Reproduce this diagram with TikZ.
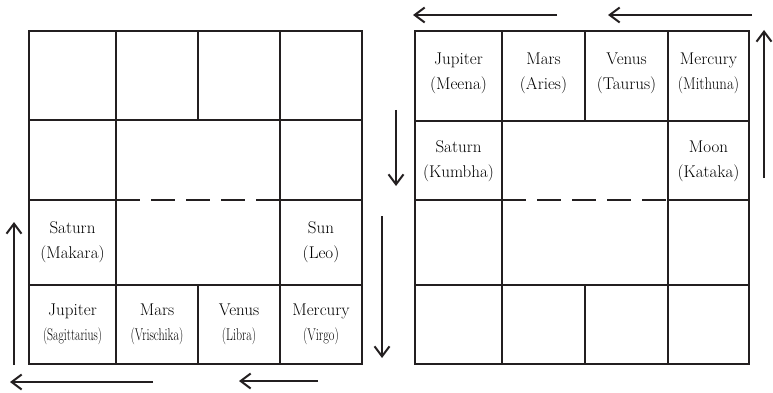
\documentclass[tikz,border=0pt]{standalone}
\usetikzlibrary{arrows.meta}
\definecolor{ink}{RGB}{35,31,32}
\tikzset{
  grid/.style={line width=2pt, draw=ink},
  dsh/.style={line width=2pt, draw=ink, dash pattern=on 24pt off 11pt},
  arr/.style={line width=2pt, draw=ink, -{Straight Barb[length=10pt,width=15pt,line width=2pt]}},
  lbl/.style={align=center, inner sep=0pt, font=\fontsize{17}{25}\selectfont, text=black},
}
\newcommand{\cnd}[2][0.71]{\scalebox{#1}[1]{#2}}
\begin{document}
\begin{tikzpicture}[x=1pt,y=-1pt]
\useasboundingbox (0,0) rectangle (773,393);
% ---------- left grid ----------
\draw[grid] (29,31) rectangle (362,364);
\draw[grid] (29,120) -- (362,120);
\draw[grid] (29,200) -- (116,200) (280,200) -- (362,200);
\draw[grid] (29,285) -- (362,285);
\draw[grid] (116,31) -- (116,364);
\draw[grid] (280,31) -- (280,364);
\draw[grid] (198,31) -- (198,120) (198,285) -- (198,364);
\draw[dsh] (116,200) -- (280,200);
\node[lbl] (lsat) at (72.5,242.5) {Saturn\\(Makara)};
\node[lbl] (lsun) at (321,242.5) {Sun\\(Leo)};
\node[lbl] (ljup) at (72.5,324.5) {Jupiter\\\cnd[0.69]{(Sagittarius)}};
\node[lbl] (lmar) at (157,324.5) {Mars\\\cnd{(Vrischika)}};
\node[lbl] (lven) at (239,324.5) {Venus\\\cnd[0.70]{(Libra)}};
\node[lbl] (lmer) at (321,324.5) {Mercury\\\cnd[0.72]{(Virgo)}};
% arrows left
\coordinate (a1s) at (14,365); \coordinate (a1e) at (14,222);
\coordinate (a2s) at (153,382); \coordinate (a2e) at (10,382);
\coordinate (a3s) at (318,381); \coordinate (a3e) at (239,381);
\coordinate (a4s) at (382,216); \coordinate (a4e) at (382,358);
\draw[arr] (a1s) -- (a1e);
\draw[arr] (a2s) -- (a2e);
\draw[arr] (a3s) -- (a3e);
\draw[arr] (a4s) -- (a4e);
% ---------- right grid ----------
\draw[grid] (415,31) rectangle (749,364);
\draw[grid] (415,121) -- (749,121);
\draw[grid] (415,200) -- (502,200) (668,200) -- (749,200);
\draw[grid] (415,285) -- (749,285);
\draw[grid] (502,31) -- (502,364);
\draw[grid] (668,31) -- (668,364);
\draw[grid] (585,31) -- (585,121) (585,285) -- (585,364);
\draw[dsh] (502,200) -- (668,200);
\node[lbl] (rjup) at (458.5,73.5) {Jupiter\\(Meena)};
\node[lbl] (rmar) at (543.5,73.5) {Mars\\(Aries)};
\node[lbl] (rven) at (626.5,73.5) {Venus\\(Taurus)};
\node[lbl] (rmer) at (708.5,73.5) {Mercury\\\cnd[0.87]{(Mithuna)}};
\node[lbl] (rsat) at (458.5,161) {Saturn\\(Kumbha)};
\node[lbl] (rmoo) at (708.5,161) {Moon\\(Kataka)};
% arrows right
\coordinate (b1s) at (557,15); \coordinate (b1e) at (413,15);
\coordinate (b2s) at (752,15); \coordinate (b2e) at (608,15);
\coordinate (b3s) at (764,178); \coordinate (b3e) at (764,30);
\coordinate (b4s) at (396,110); \coordinate (b4e) at (396,186);
\draw[arr] (b1s) -- (b1e);
\draw[arr] (b2s) -- (b2e);
\draw[arr] (b3s) -- (b3e);
\draw[arr] (b4s) -- (b4e);
\end{tikzpicture}
\end{document}
